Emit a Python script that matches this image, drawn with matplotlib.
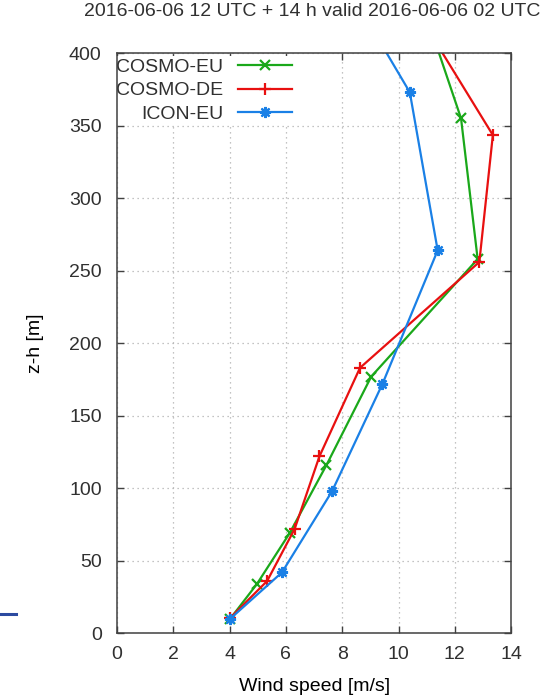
import matplotlib
matplotlib.use('Agg')
import matplotlib.pyplot as plt
from matplotlib.lines import Line2D

plt.rcParams['font.family'] = ['Liberation Sans', 'DejaVu Sans']
plt.rcParams['font.size'] = 14
plt.rcParams['text.color'] = '#303030'

# profiles (last point of each lies above the 400 m limit)
eu_speed = [4.02, 4.97, 6.13, 7.44, 9.03, 12.81, 12.22, 11.09]
eu_height = [10, 34, 69, 116, 177, 258, 355, 420]
de_speed = [4.02, 5.33, 6.31, 7.19, 8.63, 12.87, 13.35, 10.93]
de_height = [10.6, 36, 72, 122, 183, 256, 343.5, 420]
icon_speed = [4.02, 5.86, 7.64, 9.43, 11.39, 10.40, 8.97]
icon_height = [10, 42, 98, 172, 264, 373, 420]

xticks = [0, 2, 4, 6, 8, 10, 12, 14]
yticks = [0, 50, 100, 150, 200, 250, 300, 350, 400]

fig = plt.figure(figsize=(5.52, 6.99), dpi=100)
ax = fig.add_axes([0.212, 0.094, 0.714, 0.830])

ax.plot(eu_speed, eu_height, color='#1aa81a', lw=1.6, marker='x', ms=7, mew=1.6,
        label='COSMO-EU')
ax.plot(de_speed, de_height, color='#e81010', lw=1.6, marker='+', ms=9, mew=1.6,
        label='COSMO-DE')
ax.plot(icon_speed, icon_height, color='#1a80e6', lw=1.6, marker=(8, 2, 0), ms=8, mew=1.6,
        label='ICON-EU')

ax.set_xlim(0, 14)
ax.set_ylim(0, 400)
ax.set_xticks(xticks)
ax.set_yticks(yticks)
ax.grid(True, color='#b0b0b0', ls=(0, (1, 3)), lw=0.9)
ax.tick_params(direction='in', length=5, width=1, top=True, right=True,
               colors='#404040', labelcolor='#303030', labelsize=14)
ax.tick_params(axis='x', pad=9)
ax.tick_params(axis='y', pad=11)
for s in ax.spines.values():
    s.set_color('#404040')
    s.set_linewidth(1.1)
    s.set_zorder(6)  # keep frame above the white legend box

ax.set_xlabel('Wind speed [m/s]', fontsize=14, labelpad=11)
ax.set_ylabel('z-h [m]', fontsize=14, labelpad=18)
fig.suptitle('2016-06-06 12 UTC + 14 h valid 2016-06-06 02 UTC', x=0.566, y=0.995,
             va='top', fontsize=14)

# markerfirst=False gives gnuplot-like right aligned keys
ax.legend(loc='upper left', bbox_to_anchor=(-0.032, 1.011), markerfirst=False,
          frameon=True, facecolor='white', edgecolor='none', framealpha=1,
          fancybox=False, handlelength=2.8, handletextpad=0.75,
          labelspacing=0.3, borderpad=0.1, fontsize=14)

# small stray bar at the left edge of the original image
fig.add_artist(Line2D([0.0, 0.029], [1 - 614 / 699, 1 - 614 / 699],
                      color='#2c4aa0', lw=2.2))

fig.savefig('out.png', dpi=100)
